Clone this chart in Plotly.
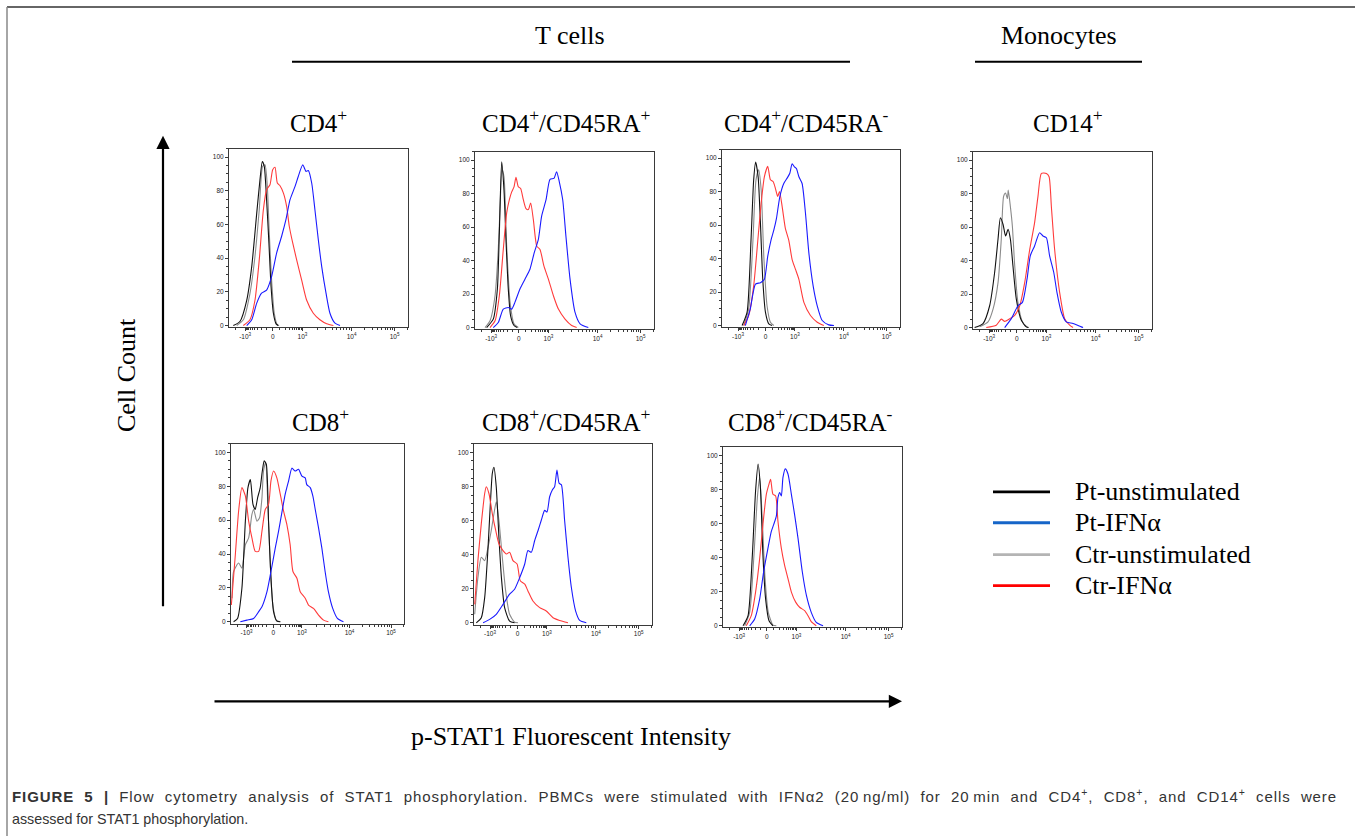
import math
import plotly.graph_objects as go

W, H = 1355, 838

# ---------------- data (display-scale x, % of max y) ----------------
series_names = ["Pt-unstimulated", "Pt-IFNα", "Ctr-unstimulated", "Ctr-IFNα"]
x_tick_text = ["-10<sup>3</sup>", "0", "10<sup>3</sup>", "10<sup>4</sup>", "10<sup>5</sup>"]
x_tick_vals = [9, 24.5, 41, 68.5, 92.5]
y_tick_vals = [0, 20, 40, 60, 80, 100]

panel_titles = ["CD4<sup>+</sup>", "CD4<sup>+</sup>/CD45RA<sup>+</sup>", "CD4<sup>+</sup>/CD45RA<sup>-</sup>",
                "CD14<sup>+</sup>", "CD8<sup>+</sup>", "CD8<sup>+</sup>/CD45RA<sup>+</sup>",
                "CD8<sup>+</sup>/CD45RA<sup>-</sup>"]

caption_line1 = ("<b>FIGURE 5 |</b> Flow cytometry analysis of STAT1 phosphorylation. PBMCs were stimulated "
                 "with IFNα2 (20\u2009ng/ml) for 20\u2009min and CD4<sup>+</sup>, CD8<sup>+</sup>, and "
                 "CD14<sup>+</sup> cells were")
caption_line2 = "assessed for STAT1 phosphorylation."

# CD4+
cd4_pt_unstim = [(2.4,0),(6.1,2.4),(9.9,15),(12.7,35),(15.5,66.7),(17.3,86.5),(18.6,97.4),(19.7,94.5),(21,74.7),(22.3,49),(23.5,23),(24.8,7.3),(26.3,1),(27.5,0)]
cd4_ctr_unstim = [(4.3,0),(8,3.4),(11.7,19),(14.5,41),(16.9,68.7),(18.8,94.5),(20.1,95.4),(21.4,82.6),(22.5,54.9),(23.8,27),(25.3,7.3),(27,0.4),(28,0)]
cd4_ctr_ifn = [(8,0),(11.7,3.4),(14.5,15),(16.9,39),(19.2,68.7),(21,80.6),(22.9,83.6),(24.4,92.5),(25.7,93.9),(27,84.6),(28.5,83),(30.4,78.6),(32.2,70.7),(33.7,58.8),(35.6,49),(37.8,39),(40.6,27),(43.4,15),(47.1,7.3),(50.8,3.4),(54.6,1),(58.3,0)]
cd4_pt_ifn = [(9.9,0),(12.7,3.4),(15.5,13.3),(18.2,19.2),(21,21),(23.8,29),(26.6,43),(29.4,53),(31.8,62.8),(34.1,74.7),(36.9,82.6),(38.7,88.5),(41.2,95.4),(43,91.5),(44.3,92),(46.2,84.6),(48,68.7),(49.9,50.9),(51.8,35),(54.2,19.2),(56.4,7.3),(59.2,1.4),(62,0)]

# CD4+/CD45RA+
cd4ra_pos_pt_unstim = [(6.5,0),(10.2,5),(12.5,23),(13.6,56.5),(14.9,99),(16.2,82),(17.3,52.6),(18.6,23),(19.9,7),(21.8,1.2),(23.6,0)]
cd4ra_pos_ctr_unstim = [(5.6,0),(8.4,4),(11.2,19),(13,46.6),(14,72),(15.1,94),(16.2,90),(17.7,48.6),(19.6,15),(21.8,2.2),(24.2,0)]
cd4ra_pos_ctr_ifn = [(8.4,0),(11.2,4),(13.6,19),(15.8,46.6),(17.7,68.4),(19.2,76.3),(20.5,81),(21.8,84),(22.9,89.7),(24.2,84),(25.5,83),(27,76.3),(28.5,71),(29.8,70.4),(31.1,74.3),(32.6,64.4),(34.5,48.6),(36.3,46.6),(38.5,36.8),(41,28.9),(43.8,19),(46.6,11),(50.3,5),(54,1.2),(56.8,0)]
cd4ra_pos_pt_ifn = [(10.2,0),(13,3),(15.8,11),(18.6,12),(20.5,11),(22.3,15),(25.1,23),(27.9,28.9),(30.7,34.8),(33.1,44.7),(35.4,52.6),(37.2,66.4),(39.7,76.3),(41.9,88.5),(44.1,89),(45.6,93),(47.1,87),(49,76.3),(50.8,54.5),(53.1,28.9),(55.9,9),(58.7,2.2),(63.3,0)]

# CD4+/CD45RA-
cd4ra_neg_pt_unstim = [(11.3,0),(14.1,8),(16.3,51),(17.8,87),(18.9,97.6),(20.3,88.8),(21.6,61),(22.9,27.6),(24.4,8),(26.3,1),(28.1,0)]
cd4ra_neg_ctr_unstim = [(12.2,0),(15,10),(17.4,51),(19.1,87),(20.6,92.9),(22,81),(23.5,41),(25.3,11.8),(27.2,2),(29.1,0)]
cd4ra_neg_ctr_ifn = [(12.2,0),(15,6),(17.8,23.7),(20.3,53),(22,73),(23.8,88.8),(25.7,95),(27.2,87),(28.7,86),(30,81.9),(31.3,77),(32.3,80),(33.8,71),(35.6,58),(37.5,51),(39.4,39.4),(41.3,33.5),(43.2,27.6),(46,13.8),(49.7,6),(53.5,2),(57.2,0)]
cd4ra_neg_pt_ifn = [(13.1,0),(15.9,10),(18.8,24.7),(21.6,25.6),(23.8,27.6),(25.7,41.4),(27.6,51.3),(29.1,57),(30.6,64),(32.5,77),(34.7,84.8),(36.6,88),(38.1,90.9),(39.4,96.6),(40.7,94.7),(41.8,93.7),(43.2,88.8),(45,84.8),(46.9,67),(48.8,43.4),(51.2,23.7),(53.5,11.8),(56.3,3),(60,0.4),(62.9,0)]

# CD14+
cd14_pt_unstim = [(0.9,0),(5.6,2.4),(9.3,13),(12.1,33),(14,53),(15.3,65.5),(16.8,61.5),(18.2,54.6),(19.6,58.6),(20.9,52.7),(22.3,37),(24.2,17),(27,4.3),(29.8,0.4),(31,0)]
cd14_ctr_unstim = [(3.7,0.4),(8.4,3.4),(11.2,11),(14,27),(15.8,52.7),(17.1,78.3),(18.2,80.3),(19.2,77),(19.7,82),(20.9,72),(22,60.5),(23.3,37),(25.1,15),(27.6,3.4),(30.2,0.4),(31,0)]
cd14_ctr_ifn = [(7.4,0),(13,1.4),(15.8,5),(17.7,3.7),(20.5,5.3),(23.3,7.3),(26.1,13),(28.9,27),(31.7,46.7),(34.4,62.5),(36.3,78.3),(38.2,92),(41,92),(42.5,90),(43.8,72),(45.6,46.7),(48.4,21),(51.2,5.3),(54,1.4),(55.9,0)]
cd14_pt_ifn = [(17.7,0),(21.4,5.3),(25.1,13),(27.6,15),(30.2,29),(32,42.8),(34.4,48.7),(37.2,56.6),(39.1,54.6),(41,53.6),(42.8,42.8),(45.1,33),(46.9,21),(49.3,9.3),(52.1,3.4),(55.9,2.4),(60.5,0.4),(61.5,0)]

# CD8+
cd8_pt_unstim = [(1.5,0),(3.8,2),(6.3,19.8),(8.3,59.4),(9.8,79.2),(11.2,84),(12.7,69.3),(14,66.3),(15.4,73.3),(16.9,79.2),(18.1,89),(19.2,95),(20.4,93),(21.7,59.4),(23.1,25.7),(24.6,6),(26.5,0.4),(28.5,0)]
cd8_ctr_unstim = [(0.6,13.9),(1.5,29.7),(4.4,34.7),(6.3,31.7),(8.3,45.5),(10.2,49.5),(12.1,63.4),(13.1,66.3),(15,59.4),(16.5,61.4),(17.9,73.3),(18.8,89),(20,94),(21.3,69.3),(22.7,33.7),(24.2,9.9),(26.2,1),(28.5,0)]
cd8_ctr_ifn = [(0.2,9.9),(2.5,39.6),(4.4,65.3),(6.3,79.2),(8.3,74.3),(10.2,59.4),(12.1,49.5),(14,41.6),(16,41.6),(17.9,53.5),(19.8,66.3),(21.7,69.3),(23.1,83.2),(24.6,89),(26.5,85),(28.5,75.2),(30.4,65.3),(32.3,57.4),(34.2,45.5),(35.8,29.7),(38.1,25.7),(40,17.8),(42.9,13.9),(44.8,9.9),(47.7,7.9),(50.6,4),(53.5,1),(56.3,0)]
cd8_pt_ifn = [(5.4,0),(9.2,1),(13.1,2),(16,6),(17.9,8.9),(20.8,17.8),(23.1,29.7),(25.6,43.6),(27.5,53.5),(29.4,64.4),(31.3,75.2),(33.3,83.2),(35.2,90.7),(37.1,89),(39,90),(41,86),(42.9,85),(43.8,81),(45.8,79.2),(47.3,74.3),(48.7,66.3),(50.6,55.4),(52.5,43.6),(54.4,29.7),(56.3,17.8),(58.8,7.9),(61.5,2),(65,0)]

# CD8+/CD45RA+
cd8ra_pos_pt_unstim = [(1.3,0),(4.1,3),(6,14.8),(7.9,44.4),(9.2,70),(10.3,87.8),(11.2,91.3),(12.5,79.9),(14,50.3),(15.4,26.6),(17.2,8.9),(20,1),(22.8,0)]
cd8ra_pos_ctr_unstim = [(0.4,5),(2.2,26.6),(4.1,38.5),(6,36.5),(7.9,44.4),(9.7,54.2),(11.2,64),(12.5,71),(14,60.2),(15.9,38.5),(17.8,18.7),(20,5),(22.8,0.4),(24.7,0)]
cd8ra_pos_ctr_ifn = [(0.4,10.8),(2.2,36.5),(4.1,58.2),(6,75.9),(6.9,79.9),(8.4,75.9),(10.3,64),(12.2,54.2),(14,46.4),(16.3,42.4),(18.2,40.4),(20,41.4),(21.9,36.5),(24.2,34.5),(26,24.7),(28.5,22.7),(30.3,18.7),(33.1,12.8),(36.9,8.9),(40.6,6.9),(44.4,3),(48.1,1.4),(52.8,0)]
cd8ra_pos_pt_ifn = [(5.1,0),(8.8,2),(12.5,5),(16.3,10.8),(20,16.8),(22.8,19.7),(25.7,26.6),(28.5,34.5),(30.3,42.4),(32.2,41.4),(34.1,48.3),(36,54.2),(37.8,60.2),(39.7,66),(41,65),(42.5,74),(44,78),(45.3,79.9),(46.6,89.7),(47.8,82),(49.1,81),(50.9,60.2),(52.8,38.5),(54.7,20.7),(57.1,6.9),(59.4,1.4),(63.1,0)]

# CD8+/CD45RA-
cd8ra_neg_pt_unstim = [(11.2,0),(14,6),(16.4,41.6),(18.2,79.2),(19.6,95),(20.9,81.2),(22.3,41.6),(23.8,15.8),(25.7,3),(27.9,0)]
cd8ra_neg_ctr_unstim = [(12.1,0),(14.9,7.9),(17.3,41.6),(19.2,75.2),(20.5,87.1),(22,61.4),(23.5,27.7),(25.3,7.9),(27.9,0.4),(29.8,0)]
cd8ra_neg_ctr_ifn = [(13,0),(15.8,6),(18.2,19.8),(20.5,39.6),(22.3,59.4),(24.2,77.2),(25.7,83.2),(26.6,86),(27.9,77.2),(29.4,76.2),(30.7,61.4),(32.6,45.5),(34.4,35.6),(36.3,27.7),(38.2,19.8),(40.6,13.9),(42.8,10.9),(45.6,8.9),(47.5,5.9),(49.3,2.4),(52.1,0)]
cd8ra_neg_pt_ifn = [(14.9,0),(17.7,4),(20.5,15.8),(22.7,31.7),(25.1,45.5),(27,55.4),(28.3,59.4),(29.8,64.4),(30.7,75.2),(31.7,78.2),(32.6,76.2),(33.5,87.1),(34.8,92.1),(36.3,89.1),(38.2,77.2),(40,65.3),(41.9,51.5),(44.3,31.7),(46.6,17.8),(49.3,7.9),(52.1,2),(55.9,0)]

panels_data = [
    (cd4_pt_unstim, cd4_pt_ifn, cd4_ctr_unstim, cd4_ctr_ifn),
    (cd4ra_pos_pt_unstim, cd4ra_pos_pt_ifn, cd4ra_pos_ctr_unstim, cd4ra_pos_ctr_ifn),
    (cd4ra_neg_pt_unstim, cd4ra_neg_pt_ifn, cd4ra_neg_ctr_unstim, cd4ra_neg_ctr_ifn),
    (cd14_pt_unstim, cd14_pt_ifn, cd14_ctr_unstim, cd14_ctr_ifn),
    (cd8_pt_unstim, cd8_pt_ifn, cd8_ctr_unstim, cd8_ctr_ifn),
    (cd8ra_pos_pt_unstim, cd8ra_pos_pt_ifn, cd8ra_pos_ctr_unstim, cd8ra_pos_ctr_ifn),
    (cd8ra_neg_pt_unstim, cd8ra_neg_pt_ifn, cd8ra_neg_ctr_unstim, cd8ra_neg_ctr_ifn),
]

# ---------------- layout geometry (pixels) ----------------
panel_boxes = [  # x0, x1, y0(top), y1(bottom)
    (229, 408, 149, 328),
    (475, 654, 152, 330),
    (722, 900, 150, 328),
    (973, 1152, 152, 330),
    (231, 404, 445, 625),
    (474, 652, 445, 626),
    (723, 902, 448, 629),
]
title_pos = [(318, 121), (566, 121), (806, 121), (1068, 121), (320, 421), (566, 421), (810, 421)]

curve_colors = ["#111111", "#1a1aff", "#8a8a8a", "#ff3b3b"]
legend_colors = ["#000000", "#1565c8", "#b4b4b4", "#ff0000"]
draw_order = [2, 0, 3, 1]


def px(x):
    return x / W


def py(y):
    return 1 - y / H


# minor tick positions (axis decoration)
def minor_x():
    vals = []
    p_neg, p0, p3, p4, p5 = x_tick_vals
    for v in range(100, 1000, 100):
        f = math.asinh(v / 150) / math.asinh(1000 / 150)
        vals.append(p0 + (p3 - p0) * f)
        vals.append(p0 - (p0 - p_neg) * f)
    for a, b in ((p3, p4), (p4, p5)):
        for k in range(2, 10):
            vals.append(a + (b - a) * math.log10(k))
    for k in range(2, 4):
        vals.append(p5 + (p5 - p4) * math.log10(k))
    vals.append(p_neg - (p0 - p_neg) * 0.35)
    return [v for v in vals if 0 <= v <= 100]


fig = go.Figure()
layout_axes = {}
for i, (box, data) in enumerate(zip(panel_boxes, panels_data)):
    n = i + 1
    xa = "x" if n == 1 else f"x{n}"
    ya = "y" if n == 1 else f"y{n}"
    for s in draw_order:
        pts = data[s]
        fig.add_trace(go.Scatter(
            x=[p[0] for p in pts], y=[p[1] for p in pts],
            mode="lines", line=dict(color=curve_colors[s], width=1.1, shape="spline", smoothing=0.6),
            name=series_names[s], showlegend=False, xaxis=xa, yaxis=ya, hoverinfo="skip"))
    x0, x1, y0, y1 = box
    axis_common = dict(showline=True, mirror=True, linecolor="#3a3a3a", linewidth=1,
                       showgrid=False, zeroline=False, ticks="outside", ticklen=3,
                       tickcolor="#3a3a3a", tickwidth=1,
                       tickfont=dict(family="Liberation Sans, Arial", size=6.5, color="#222"))
    layout_axes["xaxis" if n == 1 else f"xaxis{n}"] = dict(
        axis_common, domain=[px(x0), px(x1)], range=[0, 100], anchor=ya,
        tickmode="array", tickvals=x_tick_vals, ticktext=x_tick_text,
        minor=dict(tickmode="array", tickvals=minor_x(), ticks="outside", ticklen=2,
                   tickcolor="#3a3a3a"))
    layout_axes["yaxis" if n == 1 else f"yaxis{n}"] = dict(
        axis_common, domain=[py(y1), py(y0)], range=[-1, 105], anchor=xa,
        tickmode="array", tickvals=y_tick_vals,
        minor=dict(dtick=5, ticks="outside", ticklen=2, tickcolor="#3a3a3a"))

serif = "Liberation Serif, Times New Roman, serif"
sans = "Liberation Sans, Arial, sans-serif"
annotations = []
shapes = []


def note(text, x, y, size, family=serif, xanchor="center", color="#000", **kw):
    annotations.append(dict(text=text, x=px(x), y=py(y), xref="paper", yref="paper",
                            xanchor=xanchor, yanchor="middle", showarrow=False,
                            font=dict(family=family, size=size, color=color), **kw))
    return len(annotations) - 1


for t, (tx, ty) in zip(panel_titles, title_pos):
    note(t, tx, ty, 25)

# group headers
note("T cells", 570, 36, 26)
note("Monocytes", 1059, 36, 26)
shapes.append(dict(type="line", xref="paper", yref="paper", x0=px(292), x1=px(850), y0=py(62), y1=py(62),
                   line=dict(color="#000", width=2)))
shapes.append(dict(type="line", xref="paper", yref="paper", x0=px(975), x1=px(1142), y0=py(62), y1=py(62),
                   line=dict(color="#000", width=2)))

# axis captions & arrows
note("Cell Count", 126, 376, 26, textangle=-90)
note("p-STAT1 Fluorescent Intensity", 571, 738, 26)
annotations.append(dict(text="", x=px(163), y=py(136), xref="paper", yref="paper", showarrow=True,
                        ax=0, ay=472, arrowhead=2, arrowsize=1.2, arrowwidth=2.2, arrowcolor="#000"))
annotations.append(dict(text="", x=px(902), y=py(703), xref="paper", yref="paper", showarrow=True,
                        ax=-689, ay=0, arrowhead=2, arrowsize=1.2, arrowwidth=2.2, arrowcolor="#000"))

# legend
leg_y = [493, 524, 556, 587]
for name, col, ly in zip(series_names, legend_colors, leg_y):
    shapes.append(dict(type="line", xref="paper", yref="paper", x0=px(993), x1=px(1050), y0=py(ly), y1=py(ly),
                       line=dict(color=col, width=2.8)))
    note(name, 1073, ly, 26, xanchor="left")

# caption
cap_idx = note(caption_line1, 10, 797, 15, family=sans, xanchor="left", color="#333")
note(caption_line2, 10, 821, 14.3, family=sans, xanchor="left", color="#333")

# frame
shapes.append(dict(type="line", xref="paper", yref="paper", x0=px(7), x1=1, y0=py(7), y1=py(7),
                   line=dict(color="#333", width=1.5)))
shapes.append(dict(type="line", xref="paper", yref="paper", x0=px(7), x1=px(7), y0=py(7), y1=0,
                   line=dict(color="#888", width=1.5)))

fig.update_layout(width=W, height=H, margin=dict(l=0, r=0, t=0, b=0),
                  paper_bgcolor="white", plot_bgcolor="white", showlegend=False,
                  annotations=annotations, shapes=shapes, **layout_axes)

# justify the first caption line (letter + word spacing), keeping its left edge in place
post_js = """
document.body.style.margin = '0px';
var gd = document.getElementById('{plot_id}');
var t = gd.querySelector('g.annotation[data-index="%d"] text.annotation-text');
if (t) {
  var b0 = t.getBBox();
  t.style.letterSpacing = '0.9px';
  var b1 = t.getBBox();
  var n = (t.textContent.match(/ /g) || []).length;
  if (n > 0) { t.style.wordSpacing = Math.max(0, (1325 - b1.width) / n) + 'px'; }
  var b2 = t.getBBox();
  var dx = b0.x - b2.x;
  var x0 = parseFloat(t.getAttribute('x') || '0');
  t.setAttribute('x', x0 + dx);
  t.querySelectorAll('tspan[x]').forEach(function (s) {
    s.setAttribute('x', parseFloat(s.getAttribute('x')) + dx);
  });
}
""" % cap_idx

fig.write_html("out.html", config={"displayModeBar": False}, post_script=post_js)
